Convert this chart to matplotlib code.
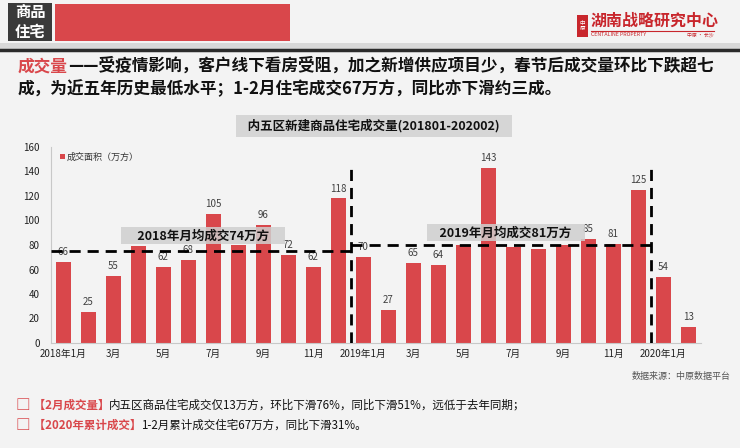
"""Inner-five-district new housing monthly sales, 2018-01 .. 2020-02 (slide recreation)."""

import matplotlib

matplotlib.use("Agg")

import matplotlib.pyplot as plt
import numpy as np
from matplotlib.patches import Rectangle

plt.rcParams["font.family"] = ["Noto Sans CJK SC", "DejaVu Sans"]

# --- data -----------------------------------------------------------------
months = [f"2018-{m:02d}" for m in range(1, 13)] + \
         [f"2019-{m:02d}" for m in range(1, 13)] + ["2020-01", "2020-02"]
sales = [66, 25, 55, 79, 62, 68, 105, 80, 96, 72, 62, 118,
         70, 27, 65, 64, 80, 143, 78, 77, 80, 85, 81, 125,
         54, 13]
# bars whose value label is printed in the original
labelled = [True, True, True, False, True, True, True, False, True, True, True, True,
            True, True, True, True, False, True, False, False, False, True, True, True,
            True, True]
tick_labels = ["2018年1月", "3月", "5月", "7月", "9月", "11月",
               "2019年1月", "3月", "5月", "7月", "9月", "11月", "2020年1月"]
year_avg = [74, 81]          # stated monthly averages
avg_line = [75, 80]          # level of the dashed average lines as drawn
avg_span = [(0, 11), (12, 23)]
year_breaks = [11.5, 23.5]

RED = "#d9474b"
W, H = 740, 448

fig = plt.figure(figsize=(W / 100, H / 100), dpi=100)
fig.patch.set_facecolor("#f3f3f3")


def fx(px):
    return px / W


def fy(py):
    return 1 - py / H


# --- slide header ------------------------------------------------------------
fig.patches.append(Rectangle((fx(8), fy(41)), fx(44), 38 / H, transform=fig.transFigure,
                             facecolor="#3a3a3a", edgecolor="none"))
fig.text(fx(30), fy(22), "商品\n住宅", color="white", fontsize=11, fontweight="bold",
         ha="center", va="center", linespacing=1.25)
fig.patches.append(Rectangle((fx(55), fy(41)), fx(235), 37 / H, transform=fig.transFigure,
                             facecolor=RED, edgecolor="none"))
fig.patches.append(Rectangle((0, fy(49)), 1, 6 / H, transform=fig.transFigure,
                             facecolor="#d8d8d8", edgecolor="none"))
fig.add_artist(plt.Line2D([0, 1], [fy(50), fy(50)], transform=fig.transFigure,
                          color="#2b2b2b", lw=2.5))

# logo
fig.patches.append(Rectangle((fx(577), fy(37)), fx(11), 22 / H, transform=fig.transFigure,
                             facecolor="#c8262c", edgecolor="none"))
fig.text(fx(582.5), fy(26), "中\n原", color="white", fontsize=4, ha="center", va="center",
         linespacing=1.0)
fig.text(fx(591), fy(21), "湖南战略研究中心", color="#c8262c", fontsize=11.5,
         fontweight="bold", ha="left", va="center")
fig.add_artist(plt.Line2D([fx(591), fx(714)], [fy(31), fy(31)], transform=fig.transFigure,
                          color="#c8262c", lw=0.8))
fig.text(fx(591), fy(35), "CENTALINE PROPERTY", color="#c8262c", fontsize=3.8,
         ha="left", va="center")
fig.text(fx(714), fy(35), "中原 · 长沙", color="#c8262c", fontsize=3.5, ha="right", va="center")

renderer = fig.canvas.get_renderer()


def text_run(x, y, parts, size):
    """Place coloured text pieces one after another on one line."""
    for part in parts:
        s, color, weight = part[:3]
        fs = part[3] if len(part) > 3 else size
        t = fig.text(x, y, s, color=color, fontsize=fs, fontweight=weight,
                     ha="left", va="center")
        x = t.get_window_extent(renderer).x1 / fig.bbox.width


text_run(fx(18), fy(66), [("成交量", RED, "bold"),
                          ("——受疫情影响，客户线下看房受阻，加之新增供应项目少，春节后成交量环比下跌超七",
                           "#111111", "bold")], 12)
text_run(fx(18), fy(89), [("成，为近五年历史最低水平；1-2月住宅成交67万方，同比亦下滑约三成。",
                           "#111111", "bold")], 12)

# --- chart -------------------------------------------------------------------
ax = fig.add_axes([fx(51), fy(343), fx(650), 196 / H])
ax.set_facecolor("none")
x = np.arange(len(sales))
ax.bar(x, sales, width=0.6, color=RED, zorder=2, label="成交面积（万方）")
for xi, v, show in zip(x, sales, labelled):
    if show:
        ax.text(xi, v + 4, str(v), ha="center", va="bottom", fontsize=7, color="#404040",
                zorder=3)

for (a, b), lvl in zip(avg_span, avg_line):
    ax.hlines(lvl, a - 0.47 if a == 0 else a - 0.5, b + 0.5, colors="black", lw=2,
              linestyles=(0, (4, 2.5)), zorder=4)
for xb in year_breaks:
    ax.vlines(xb, 0, 142, colors="black", lw=2, linestyles=(0, (4, 2.5)), zorder=4)

ax.text(5.6, 87.5, f"     2018年月均成交{year_avg[0]}万方     ", ha="center", va="center",
        fontsize=9, fontweight="bold", color="#111111", zorder=5,
        bbox=dict(boxstyle="square,pad=0.15", facecolor="#cfcfcf", edgecolor="none", alpha=0.85))
ax.text(17.7, 90, f"    2019年月均成交{year_avg[1]}万方    ", ha="center", va="center",
        fontsize=9, fontweight="bold", color="#111111", zorder=5,
        bbox=dict(boxstyle="square,pad=0.15", facecolor="#cfcfcf", edgecolor="none", alpha=0.85))

ax.set_xlim(-0.48, 25.5)
ax.set_ylim(0, 160)
ax.set_yticks(np.arange(0, 161, 20))
ax.set_xticks(x[::2])
ax.set_xticklabels(tick_labels)
ax.tick_params(axis="both", length=0, labelsize=7, colors="#222222")
ax.tick_params(axis="x", pad=4)
ax.tick_params(axis="y", pad=8)
for side in ("top", "right"):
    ax.spines[side].set_visible(False)
for side in ("left", "bottom"):
    ax.spines[side].set_color("#c8c8c8")
    ax.spines[side].set_linewidth(0.8)

leg = ax.legend(loc="upper left", bbox_to_anchor=(0.005, 1.0), frameon=False, fontsize=6.5,
                handlelength=0.6, handleheight=0.6, handletextpad=0.2, borderaxespad=0.2)
for t in leg.get_texts():
    t.set_color("#333333")

fig.text(fx(374), fy(126), "   内五区新建商品住宅成交量(201801-202002)   ", ha="center",
         va="center", fontsize=9, fontweight="bold", color="#111111",
         bbox=dict(boxstyle="square,pad=0.3", facecolor="#d6d6d6", edgecolor="none"))

# --- footer ------------------------------------------------------------------
fig.text(fx(731), fy(377), "数据来源：中原数据平台", ha="right", va="center", fontsize=6.5,
         color="#555555")
text_run(fx(16), fy(405), [("□", RED, "bold", 10.5), (" 【2月成交量】", RED, "bold"),
                           ("内五区商品住宅成交仅13万方，环比下滑76%，同比下滑51%，远低于去年同期；",
                            "#111111", "normal")], 8.3)
text_run(fx(16), fy(425), [("□", RED, "bold", 10.5), (" 【2020年累计成交】", RED, "bold"),
                           ("1-2月累计成交住宅67万方，同比下滑31%。", "#111111", "normal")], 8.3)

fig.savefig("out.png", dpi=100, facecolor=fig.get_facecolor())
